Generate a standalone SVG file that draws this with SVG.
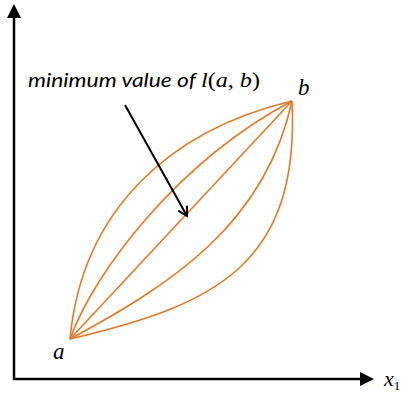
<svg xmlns="http://www.w3.org/2000/svg" width="401" height="394" viewBox="0 0 401 394">
<style>
.ax{stroke:#000;stroke-width:2.5;fill:none}
.cv{stroke:#E2792A;stroke-width:1.6;fill:none;stroke-linejoin:round}
.lbl{font-family:"Liberation Serif","DejaVu Serif",serif;font-style:italic;fill:#000}
.up{font-style:normal}
.cap{font-family:"Lato","Open Sans",sans-serif;font-style:italic;font-size:20px;fill:#000}
</style>
<defs>
<marker id="open" markerWidth="12" markerHeight="12" refX="10" refY="6" orient="auto" markerUnits="userSpaceOnUse">
<path d="M1,1 L10,6 L1,11" fill="none" stroke="#000" stroke-width="2"/>
</marker>
</defs>
<g id="axes">
<path class="ax" d="M14,380 V16"/>
<polygon points="14,4 7,18 21,18" fill="#000"/>
<path class="ax" d="M13,379 H362"/>
<polygon points="374,379 360,372 360,386" fill="#000"/>
</g>
<g id="curves">
<path class="cv" d="M70,339 L292,101"/>
<path class="cv" d="M70,339 C82,210 170,130 292,101"/>
<path class="cv" d="M70,339 C95,270 180,160 292,101"/>
<path class="cv" d="M70,339 C170,285 265,225 292,101"/>
<path class="cv" d="M70,339 C215,305 300,265 292,101"/>
</g>
<g id="connectors">
<path d="M125,105 L187,216" stroke="#000" stroke-width="2" fill="none" marker-end="url(#open)"/>
</g>
<g id="labels">
<text class="cap" x="28" y="87" textLength="168" lengthAdjust="spacingAndGlyphs">minimum value of</text>
<text class="lbl" x="201" y="87" font-size="21" textLength="59" lengthAdjust="spacingAndGlyphs">l<tspan class="up">(</tspan>a<tspan class="up">, </tspan>b<tspan class="up">)</tspan></text>
<text class="lbl" x="298" y="95" font-size="23">b</text>
<text class="lbl" x="53" y="359" font-size="23">a</text>
<text class="lbl" x="384" y="386" font-size="22">x<tspan font-size="13" dy="4" font-style="normal">1</tspan></text>
</g>
</svg>
